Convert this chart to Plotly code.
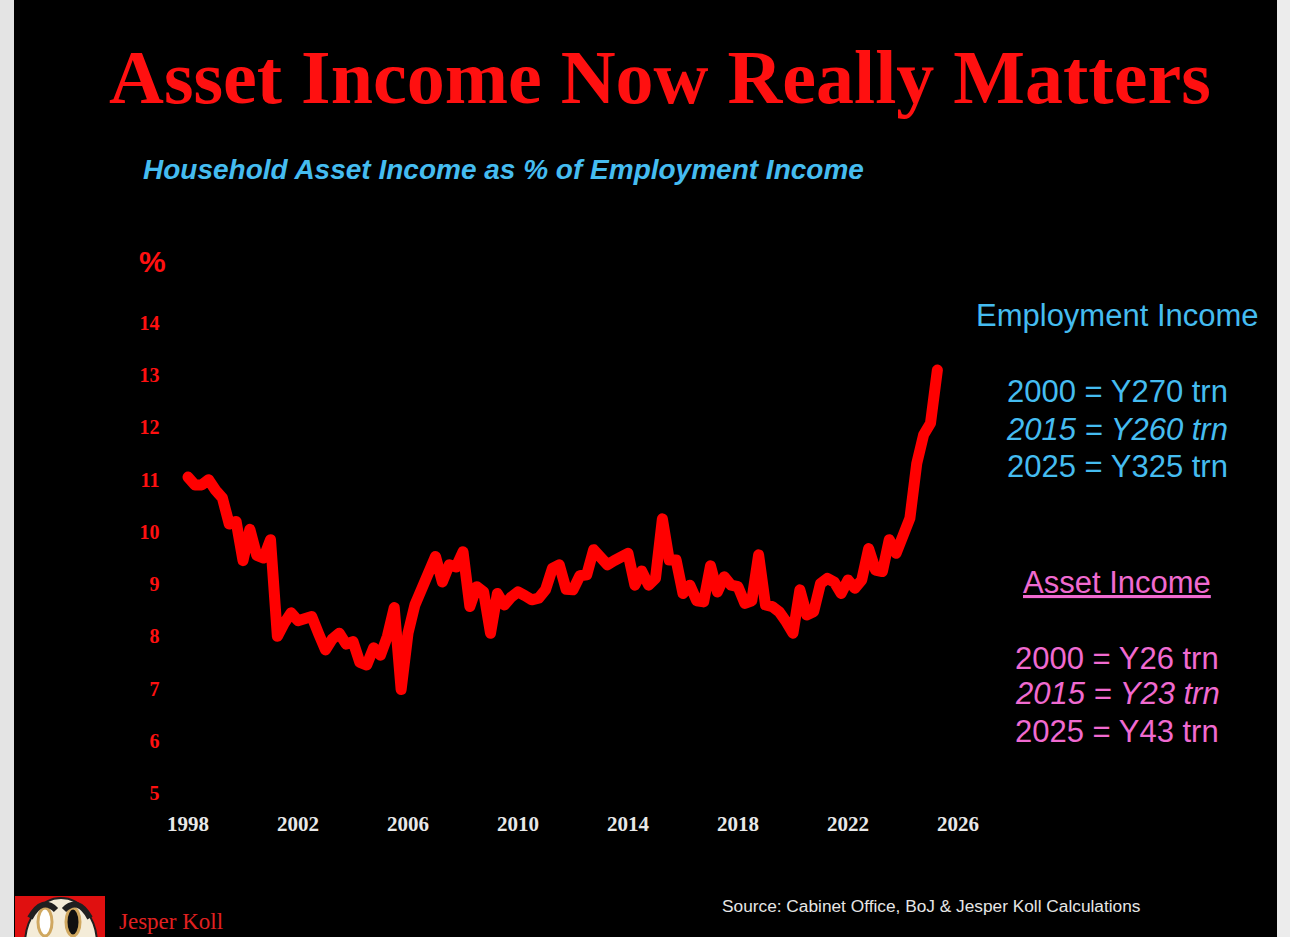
import plotly.graph_objects as go

W, H = 1290, 937

# Quarterly data: household asset income as % of employment income
years = [1998 + q * 0.25 for q in range(110)]
values = [
    11.05, 10.90, 10.90, 11.00,   # 1998
    10.80, 10.65, 10.15, 10.20,   # 1999
    9.45, 10.05, 9.55, 9.50,      # 2000
    9.85, 8.00, 8.25, 8.45,       # 2001
    8.30, 8.35, 8.38, 8.05,       # 2002
    7.74, 7.95, 8.06, 7.85,       # 2003
    7.90, 7.50, 7.45, 7.78,       # 2004
    7.64, 8.00, 8.55, 6.98,       # 2005
    8.06, 8.60, 8.95, 9.20,       # 2006
    9.53, 9.04, 9.37, 9.33,       # 2007
    9.62, 8.57, 8.95, 8.85,       # 2008
    8.06, 8.82, 8.60, 8.75,       # 2009
    8.85, 8.78, 8.70, 8.73,       # 2010
    8.89, 9.30, 9.37, 8.90,       # 2011
    8.89, 9.16, 9.18, 9.66,       # 2012
    9.50, 9.37, 9.45, 9.55,       # 2013
    9.59, 8.98, 9.25, 8.98,       # 2014
    9.11, 10.25, 9.46, 9.46,      # 2015
    8.82, 8.98, 8.68, 8.66,       # 2016
    9.35, 8.85, 9.14, 8.98,       # 2017
    8.95, 8.63, 8.68, 9.56,       # 2018
    8.60, 8.57, 8.47, 8.28,       # 2019
    8.06, 8.89, 8.41, 8.47,       # 2020
    9.01, 9.11, 9.04, 8.82,       # 2021
    9.08, 8.92, 9.08, 9.68,       # 2022
    9.27, 9.24, 9.85, 9.59,       # 2023
    9.97, 10.26, 11.31, 11.86,    # 2024
    12.08, 13.10,                 # 2025
]

x_ticks = [1998, 2002, 2006, 2010, 2014, 2018, 2022, 2026]
x_tick_labels = ["1998", "2002", "2006", "2010", "2014", "2018", "2022", "2026"]
y_ticks = [5, 6, 7, 8, 9, 10, 11, 12, 13, 14]

title_text = "Asset Income Now Really Matters"
subtitle_text = "Household Asset Income as % of Employment Income"
emp_lines = ["2000 = Y270 trn", "2015 = Y260 trn", "2025 = Y325 trn"]
asset_lines = ["2000 = Y26 trn", "2015 = Y23 trn", "2025 = Y43 trn"]
source_text = "Source: Cabinet Office, BoJ & Jesper Koll Calculations"

RED = "#ff1010"
BLUE = "#45bcf0"
PINK = "#f06ad0"


def px(x):
    return x / W


def py(y):
    return 1 - y / H


# axis geometry: 1998 at px 188, 27.5 px/yr; value 5 at px 793, 52.22 px/unit
x0, x1 = 1997.0, 2027.0
xd = [px(188 + (x0 - 1998) * 27.5), px(188 + (x1 - 1998) * 27.5)]
y0, y1 = 4.8, 14.5
yd = [py(793 - (y0 - 5) * 52.22), py(793 - (y1 - 5) * 52.22)]

fig = go.Figure()
fig.add_trace(go.Scatter(
    x=years, y=values, mode="lines",
    line=dict(color="#ff0000", width=11),
    hoverinfo="skip", showlegend=False,
))

shapes = [
    # light frame shadow
    dict(type="rect", xref="paper", yref="paper", x0=px(0), x1=px(14), y0=0, y1=1,
         fillcolor="#e4e4e4", line=dict(width=0), layer="below"),
    dict(type="rect", xref="paper", yref="paper", x0=px(1277), x1=px(1290), y0=0, y1=1,
         fillcolor="#ececec", line=dict(width=0), layer="below"),
    # black card
    dict(type="rect", xref="paper", yref="paper", x0=px(14), x1=px(1277), y0=0, y1=1,
         fillcolor="black", line=dict(width=0), layer="below"),
    # logo background
    dict(type="rect", xref="paper", yref="paper", x0=px(15), x1=px(105), y0=0, y1=py(896),
         fillcolor="#e01010", line=dict(width=0)),
    dict(type="circle", xref="paper", yref="paper", x0=px(25), x1=px(97), y0=py(990), y1=py(898),
         fillcolor="#f4ecd8", line=dict(color="#202020", width=2)),
    dict(type="circle", xref="paper", yref="paper", x0=px(38), x1=px(52), y0=py(936), y1=py(908),
         fillcolor="white", line=dict(color="#d0a860", width=3)),
    dict(type="circle", xref="paper", yref="paper", x0=px(66), x1=px(80), y0=py(936), y1=py(908),
         fillcolor="#101010", line=dict(color="#d0a860", width=3)),
    dict(type="path", xref="paper", yref="paper",
         path=f"M {px(30)},{py(918)} Q {px(42)},{py(896)} {px(56)},{py(910)}",
         line=dict(color="#202020", width=6)),
    dict(type="path", xref="paper", yref="paper",
         path=f"M {px(64)},{py(910)} Q {px(78)},{py(896)} {px(90)},{py(918)}",
         line=dict(color="#202020", width=6)),
]

ann = []


def add(text, x, y, size, color, family="Liberation Sans", xanchor="center", yanchor="middle"):
    ann.append(dict(text=text, x=px(x), y=py(y), xref="paper", yref="paper",
                    showarrow=False, xanchor=xanchor, yanchor=yanchor,
                    font=dict(size=size, color=color, family=family)))


add(f"<b>{title_text}</b>", 660, 77, 76, RED, "Liberation Serif")
add(f"<b><i>{subtitle_text}</i></b>", 141, 170, 28, BLUE, xanchor="left")
add("<b>%</b>", 152, 262, 30, RED)
add("Employment Income", 1117, 315, 31, BLUE)
add(emp_lines[0], 1117, 391, 31, BLUE)
add(f"<i>{emp_lines[1]}</i>", 1117, 429, 31, BLUE)
add(emp_lines[2], 1117, 467, 31, BLUE)
add("<u>Asset Income</u>", 1117, 582, 31, PINK)
add(asset_lines[0], 1117, 658, 31, PINK)
add(f"<i>{asset_lines[1]}</i>", 1117, 693, 31, PINK)
add(asset_lines[2], 1117, 731, 31, PINK)
add(source_text, 720, 906, 17.3, "#e6e6e6", xanchor="left")
add("Jesper Koll", 117, 921, 23, "#e02020", "Liberation Serif", xanchor="left")

fig.update_layout(
    width=W, height=H,
    margin=dict(l=0, r=0, t=0, b=0),
    paper_bgcolor="white",
    plot_bgcolor="black",
    shapes=shapes,
    annotations=ann,
    xaxis=dict(
        domain=xd, range=[x0, x1], tickmode="array", tickvals=x_ticks, ticktext=x_tick_labels,
        showgrid=False, zeroline=False, showline=False, ticks="",
        tickfont=dict(family="Liberation Serif", size=21, color="#e8e8e8", weight="bold"),
        ticklabelstandoff=6,
    ),
    yaxis=dict(
        domain=yd, range=[y0, y1], tickmode="array", tickvals=y_ticks,
        showgrid=False, zeroline=False, showline=False, ticks="",
        tickfont=dict(family="Liberation Serif", size=20, color=RED, weight="bold"),
        ticklabelstandoff=0,
    ),
)

post = """
document.body.style.margin = '0';
document.body.style.overflow = 'hidden';
document.querySelectorAll('path.js-line').forEach(function(p){
  p.style.strokeLinejoin = 'round';
  p.style.strokeLinecap = 'round';
});
"""

fig.write_html("out.html", post_script=post, config={"displayModeBar": False})
